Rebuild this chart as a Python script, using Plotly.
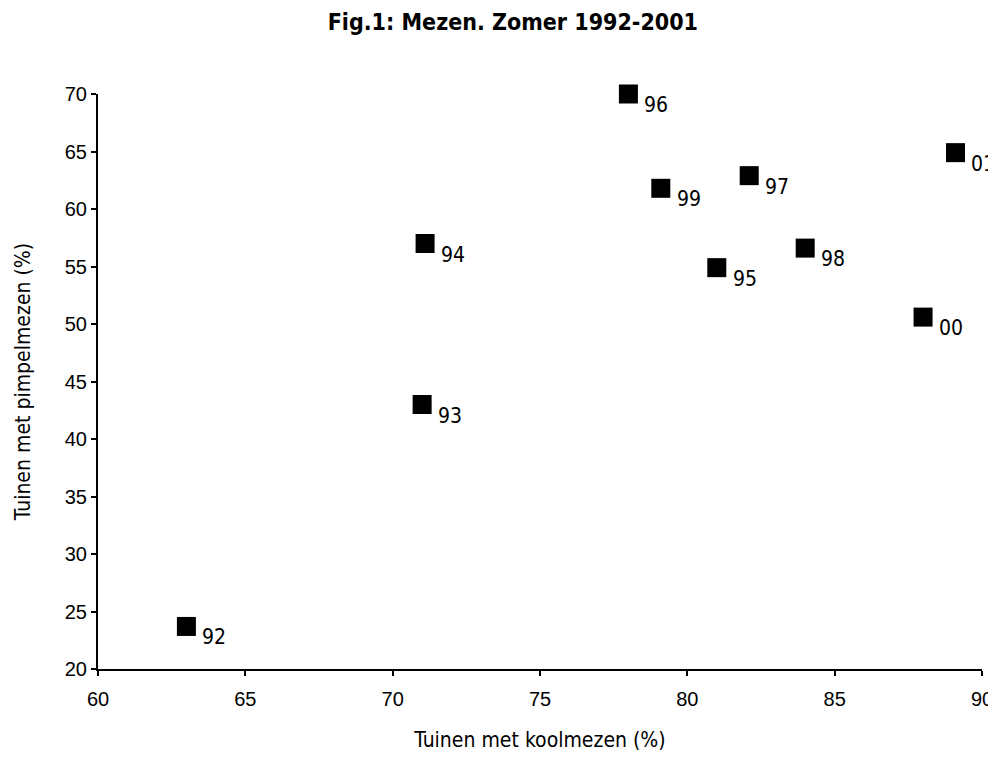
import plotly.graph_objects as go

years = ["92", "93", "94", "95", "96", "97", "98", "99", "00", "01"]
koolmezen = [63.0, 71.0, 71.1, 81.0, 78.0, 82.1, 84.0, 79.1, 88.0, 89.1]
pimpelmezen = [23.7, 43.0, 57.0, 54.9, 70.0, 62.9, 56.6, 61.8, 50.6, 64.9]

x_ticks = [60, 65, 70, 75, 80, 85, 90]
y_ticks = [20, 25, 30, 35, 40, 45, 50, 55, 60, 65, 70]

NARROW = "DejaVu Sans Condensed, Liberation Sans Narrow, Roboto Condensed, Liberation Sans"

fig = go.Figure()
fig.add_trace(go.Scatter(
    x=koolmezen, y=pimpelmezen,
    mode="markers",
    marker=dict(symbol="square", size=19, color="black"),
    cliponaxis=False,
    showlegend=False,
))

for xv, yv, lab in zip(koolmezen, pimpelmezen, years):
    fig.add_annotation(
        x=xv, y=yv, text=lab, showarrow=False,
        xanchor="left", yanchor="middle",
        xshift=14, yshift=-11,
        font=dict(family=NARROW, size=21, color="black"),
    )

fig.update_layout(
    width=988, height=744,
    paper_bgcolor="white", plot_bgcolor="white",
    margin=dict(l=90, r=14, t=86, b=83, autoexpand=False),
    title=dict(
        text="<b>Fig.1: Mezen. Zomer 1992-2001</b>",
        x=0.511, xanchor="center", y=0.981, yanchor="middle",
        font=dict(family=NARROW, size=23, color="black"),
    ),
    font=dict(family="Liberation Sans", color="black"),
)
fig.update_xaxes(
    range=[60, 90], tickvals=x_ticks, ticktext=[str(v) for v in x_ticks],
    showgrid=False, zeroline=False, automargin=False,
    showline=True, linecolor="black", linewidth=2,
    ticks="outside", ticklen=5, tickwidth=2, tickcolor="black",
    ticklabelstandoff=6,
    tickfont=dict(family="Liberation Sans", size=20),
    title=dict(text="Tuinen met koolmezen (%)", standoff=34,
               font=dict(family=NARROW, size=21)),
)
fig.update_yaxes(
    range=[20, 70], tickvals=y_ticks, ticktext=[str(v) for v in y_ticks],
    showgrid=False, zeroline=False, automargin=False,
    showline=True, linecolor="black", linewidth=2,
    ticks="outside", ticklen=5, tickwidth=2, tickcolor="black",
    tickfont=dict(family="Liberation Sans", size=20),
    title=dict(text="Tuinen met pimpelmezen (%)", standoff=28,
               font=dict(family=NARROW, size=21)),
)

fig.write_html("out.html")
